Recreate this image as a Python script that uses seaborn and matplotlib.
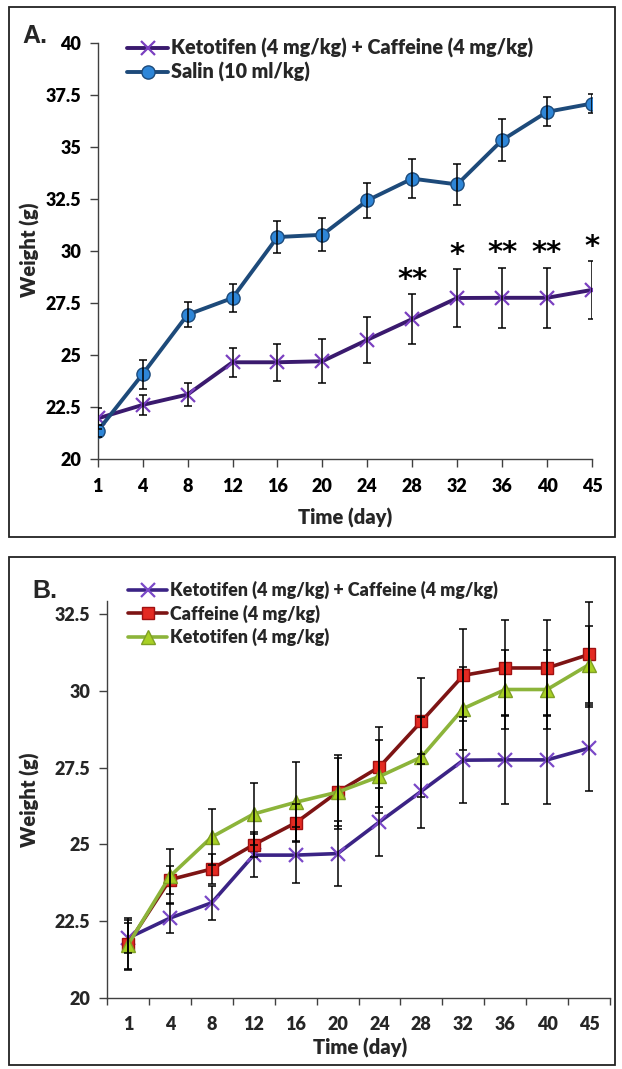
import matplotlib
matplotlib.use("Agg")
import matplotlib.pyplot as plt
import seaborn as sns
import numpy as np
import pandas as pd
from matplotlib.patches import Rectangle

# ---------------- data ----------------
days = ["1", "4", "8", "12", "16", "20", "24", "28", "32", "36", "40", "45"]

kc_mean = [21.95, 22.6, 23.1, 24.65, 24.65, 24.7, 25.73, 26.73, 27.74, 27.75, 27.75, 28.13]
kc_err = [0.5, 0.5, 0.55, 0.7, 0.9, 1.05, 1.1, 1.2, 1.4, 1.45, 1.45, 1.4]

salin_mean = [21.35, 24.08, 26.94, 27.74, 30.67, 30.78, 32.43, 33.48, 33.2, 35.33, 36.69, 37.09]
salin_err = [0.3, 0.7, 0.6, 0.65, 0.75, 0.8, 0.85, 0.95, 1.0, 1.0, 0.7, 0.45]

caf_mean = [21.76, 23.85, 24.2, 24.99, 25.7, 26.7, 27.52, 29.0, 30.5, 30.74, 30.74, 31.18]
caf_err = [0.85, 0.45, 0.5, 0.4, 0.6, 1.1, 1.3, 1.4, 1.5, 1.55, 1.55, 1.7]

ket_mean = [21.73, 23.96, 25.24, 25.99, 26.37, 26.7, 27.21, 27.84, 29.42, 30.04, 30.04, 30.85]
ket_err = [0.8, 0.9, 0.9, 1.0, 1.3, 1.2, 1.2, 1.3, 1.35, 1.3, 1.3, 1.25]

star_days = ["28", "32", "36", "40", "45"]
star_text = ["**", "*", "**", "**", "*"]

yticks_A = [20, 22.5, 25, 27.5, 30, 32.5, 35, 37.5, 40]
yticks_B = [20, 22.5, 25, 27.5, 30, 32.5]

lab_kc = "Ketotifen (4 mg/kg) + Caffeine (4 mg/kg)"
lab_salin = "Salin (10 ml/kg)"
lab_caf = "Caffeine (4 mg/kg)"
lab_ket = "Ketotifen (4 mg/kg)"

# ---------------- style ----------------
sns.set_theme(style="white")
plt.rcParams["font.family"] = ["Lato", "DejaVu Sans"]
plt.rcParams["font.weight"] = "heavy"

W, H = 622, 1069
fig = plt.figure(figsize=(W / 100, H / 100), dpi=100)


def px_axes(l, t, r, b):
    return fig.add_axes([l / W, 1 - b / H, (r - l) / W, (b - t) / H])


pos = np.arange(len(days))
df = pd.DataFrame({"pos": pos, "day": days,
                   "kc": kc_mean, "kc_err": kc_err,
                   "salin": salin_mean, "salin_err": salin_err,
                   "caf": caf_mean, "caf_err": caf_err,
                   "ket": ket_mean, "ket_err": ket_err})

axis_col = "#404040"
TICK_FS = 13
LAB_FS = 14.5
LEG_FS_A = 14.2
LEG_FS_B = 12.9
WT = "heavy"


def style_axes(ax):
    for s in ["top", "right"]:
        ax.spines[s].set_visible(False)
    for s in ["left", "bottom"]:
        ax.spines[s].set_color(axis_col)
        ax.spines[s].set_linewidth(1.0)
    ax.set_facecolor("white")
    ax.grid(False)


def series(ax, col, line_c, marker, mfc, mec, ms, lw, label):
    sns.lineplot(data=df, x="pos", y=col, ax=ax, color=line_c, lw=lw,
                 marker=marker, markersize=ms, markerfacecolor=mfc,
                 markeredgecolor=mec, markeredgewidth=1.0 if marker != "x" else 1.6,
                 label=label, zorder=3, legend=False)
    ax.errorbar(df["pos"], df[col], yerr=df[col + "_err"], fmt="none",
                ecolor="black", elinewidth=1.1, capsize=3.2, capthick=1.1,
                zorder=4)


def bold_ticks(ax):
    for t in ax.get_xticklabels() + ax.get_yticklabels():
        t.set_fontweight(WT)


# ---------------- panel A ----------------
axA = px_axes(97.7, 43, 592, 459)
style_axes(axA)
series(axA, "kc", "#3a1a6e", "x", "#7a3fc0", "#7a3fc0", 9.5, 2.8, lab_kc)
series(axA, "salin", "#1d4a7a", "o", "#2e86d8", "#1d4a7a", 9.5, 2.8, lab_salin)
axA.set_xlim(0, len(days) - 1)
axA.set_ylim(20, 40)
axA.set_xticks(pos)
axA.set_xticklabels(days)
axA.set_yticks(yticks_A)
axA.set_yticklabels([f"{v:g}" for v in yticks_A])
axA.tick_params(axis="both", direction="out", length=6, width=1.0,
                color=axis_col, labelsize=TICK_FS, labelcolor="black",
                bottom=True, left=True)
axA.tick_params(axis="x", pad=8)
axA.tick_params(axis="y", pad=6)
bold_ticks(axA)
for v, t in zip(star_days, star_text):
    i = days.index(v)
    axA.text(i, kc_mean[i] + kc_err[i] + 0.3, t, ha="center", va="baseline",
             fontsize=21, fontweight="bold", color="black", family="DejaVu Sans")
axA.set_xlabel("Time (day)", fontsize=LAB_FS, fontweight=WT)
axA.set_ylabel("Weight (g)", fontsize=LAB_FS, fontweight=WT)
axA.xaxis.set_label_coords((345 - 97.7) / (592 - 97.7), (459 - 518) / (459 - 43))
axA.yaxis.set_label_coords((30 - 97.7) / (592 - 97.7), (459 - 250) / (459 - 43))
axA.xaxis.label.set_va("center")
axA.yaxis.label.set_va("center")
axA.legend(frameon=False, prop={"size": LEG_FS_A, "weight": WT}, loc="upper left",
           bbox_to_anchor=(127 / W, 1 - 38 / H), bbox_transform=fig.transFigure,
           borderpad=0, borderaxespad=0, handlelength=2.1, handletextpad=0.15,
           labelspacing=0.22, numpoints=1)

# ---------------- panel B ----------------
axB = px_axes(107, 600.7, 610, 998)
style_axes(axB)
series(axB, "kc", "#3b2385", "x", "#7a48c8", "#7a48c8", 9.5, 2.6, lab_kc)
series(axB, "caf", "#7d1414", "s", "#e42a22", "#a01010", 8.5, 2.6, lab_caf)
series(axB, "ket", "#8cb43a", "^", "#a8d024", "#7fa024", 9.5, 2.6, lab_ket)
axB.set_xlim(-0.5, len(days) - 0.5)
axB.set_ylim(20, 32.93)
axB.set_xticks(pos)
axB.set_xticklabels(days)
axB.set_xticks(np.arange(len(days) + 1) - 0.5, minor=True)
axB.set_yticks(yticks_B)
axB.set_yticklabels([f"{v:g}" for v in yticks_B])
axB.tick_params(axis="x", which="major", length=0, pad=13, labelsize=TICK_FS)
axB.tick_params(axis="x", which="minor", direction="out", length=5, width=1.0,
                color=axis_col, bottom=True)
axB.tick_params(axis="y", direction="out", length=6, width=1.0, color=axis_col,
                labelsize=TICK_FS, left=True, pad=6)
bold_ticks(axB)
axB.set_xlabel("Time (day)", fontsize=LAB_FS, fontweight=WT)
axB.set_ylabel("Weight (g)", fontsize=LAB_FS, fontweight=WT)
axB.xaxis.set_label_coords((360 - 107) / (610 - 107), (998 - 1048) / (998 - 600.7))
axB.yaxis.set_label_coords((30 - 107) / (610 - 107), (998 - 800) / (998 - 600.7))
axB.xaxis.label.set_va("center")
axB.yaxis.label.set_va("center")
axB.legend(frameon=False, prop={"size": LEG_FS_B, "weight": WT}, loc="upper left",
           bbox_to_anchor=(128 / W, 1 - 581 / H), bbox_transform=fig.transFigure,
           borderpad=0, borderaxespad=0, handlelength=2.2, handletextpad=0.15,
           labelspacing=0.3, numpoints=1)

# ---------------- panel frames & letters ----------------
for (l, t, r, b) in [(9, 7, 615, 537), (9, 557, 615, 1065)]:
    fig.patches.append(Rectangle((l / W, 1 - b / H), (r - l) / W, (b - t) / H,
                                 transform=fig.transFigure, fill=False,
                                 edgecolor="#222222", linewidth=1.3))
fig.text(22 / W, 1 - 36 / H, "A.", fontsize=18, fontweight="bold",
         family="Liberation Sans", va="center", ha="left")
fig.text(32 / W, 1 - 591 / H, "B.", fontsize=18, fontweight="bold",
         family="Liberation Sans", va="center", ha="left")

fig.savefig("out.png", dpi=100, facecolor="white")
